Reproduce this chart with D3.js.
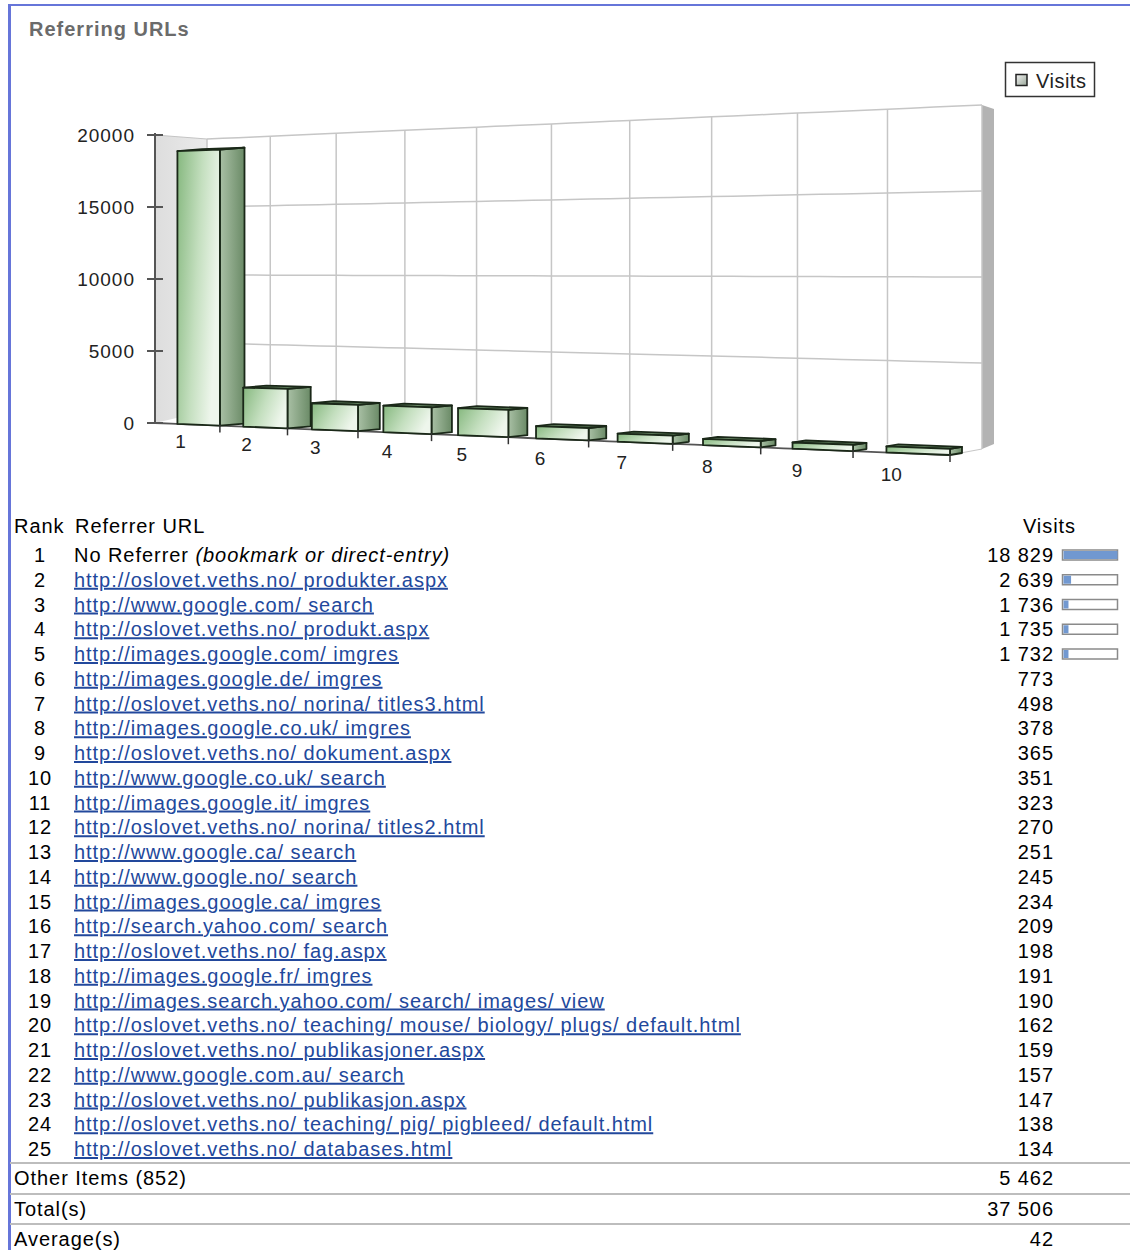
<!DOCTYPE html>
<html><head><meta charset="utf-8">
<script src="https://cdn.jsdelivr.net/npm/d3@7"></script>
<style>
html,body{margin:0;padding:0;background:#fff;}
svg{display:block;}
</style></head><body>
<svg id="c" width="1130" height="1250"></svg>
<script>
// ---------- data ----------
const chartTitle = "Referring URLs";
const seriesName = "Visits";
const ranks = [1,2,3,4,5,6,7,8,9,10,11,12,13,14,15,16,17,18,19,20,21,22,23,24,25];
const referrers = [
  "No Referrer",
  "http://oslovet.veths.no/ produkter.aspx",
  "http://www.google.com/ search",
  "http://oslovet.veths.no/ produkt.aspx",
  "http://images.google.com/ imgres",
  "http://images.google.de/ imgres",
  "http://oslovet.veths.no/ norina/ titles3.html",
  "http://images.google.co.uk/ imgres",
  "http://oslovet.veths.no/ dokument.aspx",
  "http://www.google.co.uk/ search",
  "http://images.google.it/ imgres",
  "http://oslovet.veths.no/ norina/ titles2.html",
  "http://www.google.ca/ search",
  "http://www.google.no/ search",
  "http://images.google.ca/ imgres",
  "http://search.yahoo.com/ search",
  "http://oslovet.veths.no/ fag.aspx",
  "http://images.google.fr/ imgres",
  "http://images.search.yahoo.com/ search/ images/ view",
  "http://oslovet.veths.no/ teaching/ mouse/ biology/ plugs/ default.html",
  "http://oslovet.veths.no/ publikasjoner.aspx",
  "http://www.google.com.au/ search",
  "http://oslovet.veths.no/ publikasjon.aspx",
  "http://oslovet.veths.no/ teaching/ pig/ pigbleed/ default.html",
  "http://oslovet.veths.no/ databases.html"
];
const noReferrerNote = "(bookmark or direct-entry)";
const visits = [18829,2639,1736,1735,1732,773,498,378,365,351,323,270,251,245,234,209,198,191,190,162,159,157,147,138,134];
const chartCategories = ["1","2","3","4","5","6","7","8","9","10"];
const yTicks = [0,5000,10000,15000,20000];
const barRowCount = 5;
const footerLabels = ["Other Items (852)","Total(s)","Average(s)"];
const footerValues = [5462,37506,42];
const headers = ["Rank","Referrer URL","Visits"];

// ---------- setup ----------
const svg = d3.select("#c");
const defs = svg.append("defs");
const fmt = d3.formatLocale({decimal:".",thousands:" ",grouping:[3],currency:["",""]}).format(",d");

// frame
svg.append("rect").attr("x",8).attr("y",4).attr("width",1122).attr("height",2).attr("fill","#6675d9");
svg.append("rect").attr("x",8).attr("y",4).attr("width",3).attr("height",1246).attr("fill","#6675d9");

// title
svg.append("text").attr("x",29).attr("y",36).text(chartTitle)
  .attr("font-family","Liberation Sans, Arial, sans-serif").attr("font-weight","bold")
  .attr("font-size",20).attr("letter-spacing",1).attr("fill","#6b6b6b");

// ---------- pseudo-3D chart geometry ----------
const nCat = chartCategories.length;
const warp = t => t / (t + 1.25 * (1 - t));
const uScale = d3.scaleLinear().domain([0, nCat]).range([0, 1]);
const xFront = d3.scaleLinear().domain([0,1]).range([155,950]);
const xBack = d3.scaleLinear().domain([0,1]).range([207,982]);
const yFrontOfX = d3.scaleLinear().domain([155,950]).range([423,455]);
const yBackOfX = d3.scaleLinear().domain([207,982]).range([411,449]);
const hFront = d3.scaleLinear().domain([0,1]).range([288,350]);
const hBack = d3.scaleLinear().domain([0,1]).range([272,344]);
const vScale = d3.scaleLinear().domain([0,20000]).range([0,1]);
const sideW = d3.scaleLinear().domain([0,nCat]).range([26,12]);
const labelDy = d3.scaleLinear().domain([0,nCat]).range([24,29]);

function P(u, v, d) {
  const t = warp(uScale(u));
  const xf = xFront(t), yf = yFrontOfX(xf);
  const xb = xBack(t), yb = yBackOfX(xb);
  const x = xf + (xb - xf) * d, y0 = yf + (yb - yf) * d;
  const h = hFront(t) + (hBack(t) - hFront(t)) * d;
  return [x, y0 - vScale(v) * h];
}
const line = d3.line();
const g = svg.append("g");

// gradients
function grad(id, stops, x2, y2) {
  const gr = defs.append("linearGradient").attr("id", id)
    .attr("x1",0).attr("y1",0).attr("x2",x2).attr("y2",y2);
  stops.forEach(s => gr.append("stop").attr("offset", s[0]).attr("stop-color", s[1]));
}
grad("gFront", [[0,"#86b87f"],[0.55,"#c4dfbf"],[1,"#eef6ec"]], 1, 0.35);
grad("gSide", [[0,"#a9c0a5"],[1,"#6a8a66"]], 1, 0);
grad("gTop", [[0,"#7a9a76"],[1,"#557452"]], 1, 0);
grad("gLeftWall", [[0,"#dddddd"],[1,"#ebebeb"]], 1, 0);
grad("gLegend", [[0,"#f2f2f2"],[1,"#9aa89a"]], 1, 1);

// floor
g.append("path").attr("d", line([P(0,0,0),P(nCat,0,0),P(nCat,0,1),P(0,0,1)]) + "Z")
  .attr("fill","#fff").attr("stroke","none");
// back wall
g.append("path").attr("d", line([P(0,0,1),P(nCat,0,1),P(nCat,20000,1),P(0,20000,1)]) + "Z")
  .attr("fill","#fff");
// right thickness
const rt = P(nCat,20000,1), rb = P(nCat,0,1);
g.append("path").attr("d", line([rt,[rt[0]+12,rt[1]+4],[rb[0]+12,rb[1]-5],rb]) + "Z").attr("fill","#b3b3b3");
// left wall
g.append("path").attr("d", line([P(0,0,0),P(0,0,1),P(0,20000,1),P(0,20000,0)]) + "Z")
  .attr("fill","url(#gLeftWall)");
// left wall top edge
g.append("path").attr("d", line([P(0,20000,0),P(0,20000,1)])).attr("stroke","#c4c4c4").attr("stroke-width",1.2).attr("fill","none");

// back wall grid
const us = d3.range(0, nCat + 0.001, 0.25);
yTicks.filter(v => v > 0).forEach(v => {
  g.append("path").attr("d", line(us.map(u => P(u, v, 1))))
    .attr("fill","none").attr("stroke","#c6c6c6").attr("stroke-width",1.5);
});
d3.range(0, nCat + 1).forEach(u => {
  g.append("path").attr("d", line([P(u,0,1),P(u,20000,1)]))
    .attr("stroke","#c6c6c6").attr("stroke-width",1.5);
});
// floor right edge
g.append("path").attr("d", line([P(nCat,0,0),P(nCat,0,1)])).attr("stroke","#c8c8c8").attr("stroke-width",1.2);

// front axis line
g.append("path").attr("d", line(us.map(u => P(u,0,0)))).attr("fill","none").attr("stroke","#555").attr("stroke-width",1.8);

// y axis
const yTop = P(0,20000,0), yBot = P(0,0,0);
g.append("line").attr("x1",yTop[0]).attr("x2",yBot[0]).attr("y1",yTop[1]-2).attr("y2",yBot[1])
  .attr("stroke","#555").attr("stroke-width",2);
yTicks.forEach(v => {
  const p = P(0, v, 0);
  g.append("line").attr("x1",p[0]-8).attr("x2",p[0]+8).attr("y1",p[1]).attr("y2",p[1])
    .attr("stroke","#555").attr("stroke-width",2);
  g.append("text").attr("x",p[0]-20).attr("y",p[1]+7).attr("text-anchor","end")
    .attr("font-family","Liberation Sans, Arial, sans-serif").attr("font-size",19)
    .attr("letter-spacing",1).attr("fill","#222").text(v);
});

// bars
const chartValues = visits.slice(0, nCat);
chartValues.forEach((v, i) => {
  const A = P(i+0.35,0,0), B = P(i+1,0,0), C = P(i+1,v,0), D = P(i+0.35,v,0);
  const sv = [sideW(i+1), -2];
  const add = (p) => [p[0]+sv[0], p[1]+sv[1]];
  const bg = g.append("g").attr("stroke","#1a2818").attr("stroke-width",1.8).attr("stroke-linejoin","round");
  bg.append("path").attr("d", line([B, add(B), add(C), C]) + "Z").attr("fill","url(#gSide)");
  bg.append("path").attr("d", line([D, C, add(C), add(D)]) + "Z").attr("fill","url(#gTop)");
  bg.append("path").attr("d", line([A, B, C, D]) + "Z").attr("fill","url(#gFront)");
});

// x ticks and labels
d3.range(1, nCat + 1).forEach(u => {
  const p = P(u, 0, 0);
  g.append("line").attr("x1",p[0]).attr("x2",p[0]).attr("y1",p[1]-1).attr("y2",p[1]+7)
    .attr("stroke","#333").attr("stroke-width",1.5);
});
chartCategories.forEach((c, i) => {
  const p = P(i + 0.4, 0, 0);
  g.append("text").attr("x",p[0]).attr("y",p[1]+labelDy(i)).attr("text-anchor","middle")
    .attr("font-family","Liberation Sans, Arial, sans-serif").attr("font-size",19)
    .attr("fill","#222").text(c);
});

// legend
const lg = svg.append("g");
lg.append("rect").attr("x",1005.5).attr("y",62.5).attr("width",89).attr("height",34)
  .attr("fill","#fff").attr("stroke","#333").attr("stroke-width",1.5);
lg.append("rect").attr("x",1016).attr("y",74.5).attr("width",11).attr("height",11)
  .attr("fill","url(#gLegend)").attr("stroke","#222").attr("stroke-width",1.5);
lg.append("text").attr("x",1036).attr("y",88).attr("font-family","Liberation Sans, Arial, sans-serif")
  .attr("font-size",20).attr("letter-spacing",0.5).attr("fill","#222").text(seriesName);

// ---------- table ----------
const tf = "Liberation Sans, Arial, sans-serif";
const rowY = d3.scaleLinear().domain([1, 25]).range([555, 1149]);
const t = svg.append("g").attr("font-family", tf).attr("font-size", 20)
  .attr("letter-spacing", 0.95).attr("fill","#000");
t.append("text").attr("x",14).attr("y",533).text(headers[0]);
t.append("text").attr("x",75).attr("y",533).text(headers[1]);
t.append("text").attr("x",1076).attr("y",533).attr("text-anchor","end").text(headers[2]);

const barW = d3.scaleLinear().domain([0, d3.max(visits)]).range([0, 54]);
ranks.forEach((r, i) => {
  const y = rowY(r);
  t.append("text").attr("x",40).attr("y",y+7).attr("text-anchor","middle").text(r);
  if (i === 0) {
    const tx = t.append("text").attr("x",74).attr("y",y+7);
    tx.append("tspan").text(referrers[i] + " ");
    tx.append("tspan").attr("font-style","italic").text(noReferrerNote);
  } else {
    t.append("text").attr("x",74).attr("y",y+7).attr("fill","#22489c")
      .style("text-decoration","underline").text(referrers[i]);
  }
  t.append("text").attr("x",1054).attr("y",y+7).attr("text-anchor","end").text(fmt(visits[i]));
  if (i < barRowCount) {
    t.append("rect").attr("x",1062.5).attr("y",y-5).attr("width",55).attr("height",10)
      .attr("fill","#fff").attr("stroke","#8a8a8a").attr("stroke-width",1.5);
    t.append("rect").attr("x",1063.5).attr("y",y-4).attr("width",Math.max(2, barW(visits[i])))
      .attr("height",8).attr("fill","#7198d0");
  }
});

// footer
const sepY = [1163, 1194, 1224];
footerLabels.forEach((lab, i) => {
  t.append("line").attr("x1",10).attr("x2",1130).attr("y1",sepY[i]).attr("y2",sepY[i])
    .attr("stroke","#bdbdbd").attr("stroke-width",2);
  const cy = sepY[i] + 15;
  t.append("text").attr("x",14).attr("y",cy+7).text(lab);
  t.append("text").attr("x",1054).attr("y",cy+7).attr("text-anchor","end").text(fmt(footerValues[i]));
});
</script>
</body></html>
